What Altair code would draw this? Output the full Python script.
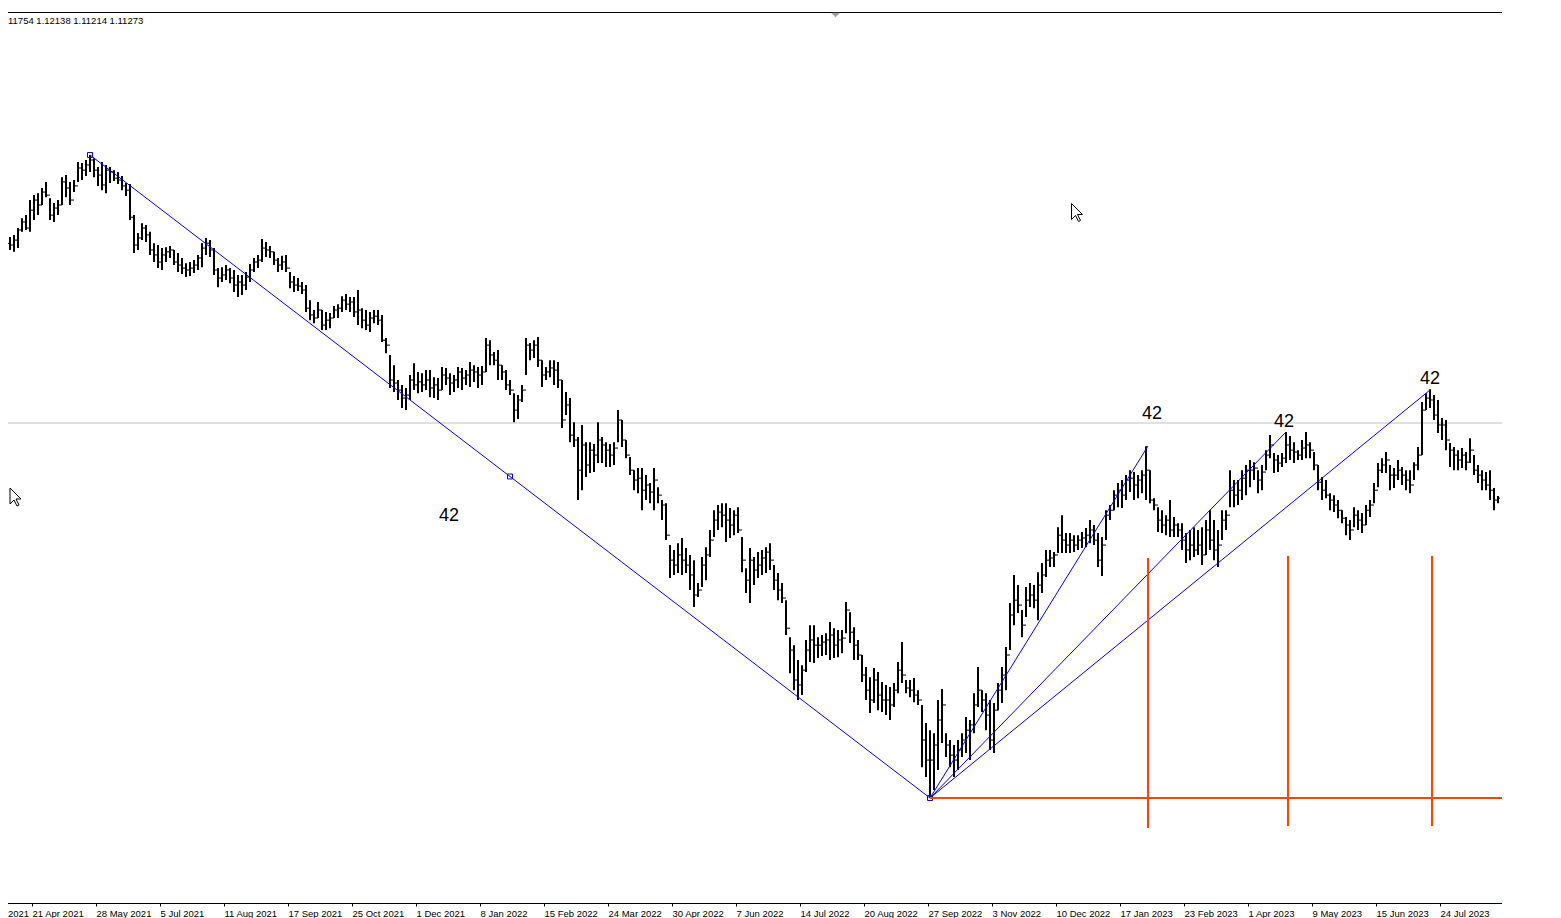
import altair as alt
import pandas as pd

# ---------------- data: daily-style bars, prices in 1e-4 units ----------------
high_pips = [
    11917, 11926, 11955, 11997, 12010, 12074, 12095, 12103, 12125, 12151,
    12082, 12061, 12074, 12171, 12180, 12151, 12159, 12236, 12231, 12244,
    12265, 12252, 12214, 12236, 12223, 12214, 12201, 12193, 12176, 12146,
    12142, 12010, 11934, 11976, 11968, 11939, 11891, 11883, 11870, 11874,
    11879, 11862, 11849, 11828, 11806, 11811, 11819, 11841, 11891, 11913,
    11904, 11870, 11785, 11789, 11798, 11785, 11777, 11756, 11756, 11769,
    11802, 11828, 11841, 11909, 11896, 11879, 11854, 11828, 11837, 11841,
    11769, 11751, 11743, 11726, 11713, 11649, 11607, 11641, 11607, 11599,
    11594, 11624, 11632, 11666, 11675, 11662, 11662, 11692, 11615, 11607,
    11599, 11607, 11607, 11586, 11488, 11416, 11373, 11310, 11289, 11276,
    11331, 11381, 11344, 11339, 11352, 11352, 11322, 11318, 11365, 11361,
    11339, 11331, 11365, 11361, 11352, 11386, 11373, 11365, 11369, 11488,
    11479, 11429, 11437, 11373, 11352, 11310, 11254, 11246, 11289, 11488,
    11467, 11479, 11492, 11394, 11365, 11394, 11394, 11386, 11310, 11259,
    11233, 11131, 11068, 11119, 11046, 11046, 11038, 11131, 11068, 11046,
    11038, 11046, 11182, 11140, 11055, 10983, 10927, 10936, 10936, 10906,
    10872, 10936, 10855, 10800, 10787, 10609, 10588, 10617, 10639, 10596,
    10567, 10545, 10448, 10558, 10600, 10673, 10757, 10779, 10787, 10787,
    10766, 10757, 10770, 10643, 10511, 10596, 10558, 10579, 10588, 10600,
    10617, 10524, 10490, 10448, 10375, 10218, 10184, 10121, 10099, 10206,
    10269, 10269, 10218, 10227, 10235, 10282, 10256, 10248, 10248, 10367,
    10324, 10260, 10206, 10142, 10091, 10048, 10087, 10070, 10027, 10015,
    10006, 10023, 10112, 10197, 10036, 10036, 10044, 9993, 9930, 9853,
    9823, 9810, 9951, 9998, 9810, 9781, 9760, 9781, 9810, 9879,
    9866, 9980, 10091, 9993, 9980, 9951, 9938, 10023, 10091, 10176,
    10363, 10482, 10439, 10333, 10431, 10448, 10439, 10494, 10533, 10588,
    10588, 10579, 10685, 10736, 10660, 10660, 10651, 10651, 10664, 10681,
    10715, 10694, 10660, 10643, 10757, 10779, 10842, 10872, 10885, 10906,
    10927, 10919, 10906, 10927, 11029, 10927, 10808, 10770, 10757, 10736,
    10800, 10728, 10702, 10702, 10660, 10673, 10685, 10673, 10685, 10715,
    10757, 10715, 10673, 10757, 10757, 10927, 10885, 10885, 10927, 10949,
    10970, 10961, 10927, 10949, 11012, 11076, 11000, 10991, 11000, 11089,
    11072, 11046, 11012, 11055, 11089, 11046, 11004, 10949, 10898, 10885,
    10829, 10821, 10800, 10757, 10728, 10715, 10770, 10757, 10745, 10779,
    10800, 10872, 10957, 10978, 11004, 10949, 10936, 10970, 10940, 10927,
    10927, 10961, 11025, 11216, 11254, 11271, 11246, 11225, 11148, 11140,
    11042, 11025, 11012, 11021, 11004, 11063, 10991, 10949, 10927, 10919,
    10927, 10851, 10817,
]
low_pips = [
    11862, 11854, 11870, 11939, 11947, 11939, 11989, 12010, 12053, 12086,
    11989, 11981, 12010, 12053, 12086, 12053, 12108, 12151, 12159, 12176,
    12193, 12171, 12134, 12116, 12103, 12146, 12155, 12142, 12116, 12091,
    11989, 11849, 11862, 11904, 11896, 11841, 11811, 11785, 11777, 11811,
    11828, 11798, 11769, 11760, 11747, 11751, 11764, 11777, 11789, 11841,
    11832, 11756, 11704, 11726, 11734, 11721, 11684, 11662, 11671, 11692,
    11726, 11769, 11785, 11811, 11832, 11828, 11798, 11769, 11777, 11769,
    11700, 11684, 11688, 11675, 11599, 11564, 11551, 11573, 11522, 11522,
    11530, 11573, 11573, 11599, 11607, 11599, 11577, 11543, 11530, 11522,
    11514, 11551, 11543, 11471, 11424, 11276, 11259, 11225, 11191, 11182,
    11225, 11267, 11254, 11259, 11267, 11237, 11233, 11225, 11267, 11289,
    11246, 11259, 11276, 11267, 11289, 11280, 11301, 11276, 11289, 11344,
    11373, 11373, 11310, 11310, 11267, 11246, 11131, 11144, 11216, 11331,
    11394, 11403, 11365, 11280, 11310, 11322, 11289, 11276, 11106, 11161,
    11046, 11025, 10800, 10842, 10898, 10915, 10919, 10957, 10957, 10940,
    10940, 10949, 11046, 11025, 10978, 10906, 10842, 10829, 10757, 10800,
    10787, 10757, 10787, 10715, 10630, 10469, 10482, 10490, 10482, 10490,
    10418, 10346, 10388, 10431, 10460, 10558, 10643, 10673, 10685, 10622,
    10639, 10651, 10660, 10494, 10405, 10363, 10439, 10469, 10482, 10490,
    10503, 10418, 10375, 10363, 10227, 10065, 9993, 9951, 9972, 10070,
    10112, 10108, 10129, 10138, 10142, 10121, 10129, 10133, 10150, 10235,
    10193, 10121, 10121, 10027, 9951, 9896, 9938, 9908, 9900, 9887,
    9866, 9921, 9980, 10023, 9980, 9963, 9942, 9930, 9666, 9624,
    9535, 9569, 9654, 9768, 9709, 9666, 9624, 9654, 9709, 9726,
    9696, 9810, 9921, 9900, 9823, 9739, 9726, 9908, 9938, 9993,
    10163, 10269, 10320, 10218, 10303, 10346, 10341, 10290, 10405, 10473,
    10516, 10516, 10575, 10575, 10575, 10575, 10579, 10588, 10596, 10600,
    10617, 10609, 10516, 10478, 10630, 10715, 10757, 10770, 10766, 10800,
    10834, 10800, 10808, 10829, 10800, 10787, 10757, 10664, 10660, 10651,
    10643, 10643, 10643, 10588, 10533, 10545, 10558, 10567, 10524, 10567,
    10588, 10545, 10516, 10630, 10673, 10770, 10770, 10779, 10800, 10821,
    10855, 10885, 10829, 10842, 10927, 10978, 10915, 10919, 10940, 10957,
    10970, 10957, 10970, 10970, 10978, 10978, 10927, 10842, 10800, 10808,
    10757, 10749, 10723, 10702, 10651, 10630, 10685, 10673, 10660, 10694,
    10728, 10787, 10855, 10915, 10915, 10842, 10851, 10885, 10864, 10842,
    10829, 10885, 10927, 10991, 11182, 11191, 11140, 11085, 11055, 11012,
    10940, 10927, 10927, 10936, 10927, 10957, 10906, 10872, 10842, 10842,
    10800, 10757, 10787,
]
close_pips = [
    11883, 11904, 11947, 11981, 11955, 12031, 12074, 12053, 12108, 12095,
    12010, 12040, 12053, 12151, 12125, 12074, 12134, 12210, 12201, 12223,
    12244, 12201, 12180, 12138, 12201, 12193, 12167, 12159, 12134, 12116,
    12001, 11883, 11913, 11955, 11926, 11862, 11841, 11811, 11841, 11854,
    11862, 11811, 11798, 11785, 11777, 11785, 11798, 11828, 11870, 11891,
    11862, 11777, 11743, 11756, 11777, 11743, 11713, 11726, 11713, 11747,
    11777, 11811, 11819, 11870, 11862, 11854, 11819, 11798, 11811, 11785,
    11726, 11713, 11709, 11692, 11615, 11586, 11573, 11607, 11543, 11564,
    11573, 11607, 11615, 11649, 11632, 11641, 11599, 11607, 11564, 11543,
    11573, 11581, 11564, 11479, 11458, 11310, 11297, 11267, 11233, 11246,
    11310, 11289, 11302, 11289, 11310, 11276, 11289, 11267, 11331, 11318,
    11297, 11310, 11344, 11318, 11331, 11352, 11344, 11331, 11344, 11458,
    11416, 11394, 11373, 11344, 11289, 11267, 11182, 11225, 11267, 11458,
    11437, 11458, 11394, 11331, 11344, 11361, 11352, 11310, 11140, 11204,
    11076, 11055, 10927, 11034, 10949, 11012, 10991, 11055, 11034, 11012,
    10991, 11021, 11140, 11055, 10991, 10927, 10885, 10893, 10842, 10864,
    10834, 10885, 10821, 10779, 10651, 10545, 10524, 10567, 10545, 10524,
    10482, 10397, 10418, 10524, 10567, 10630, 10715, 10749, 10736, 10715,
    10694, 10736, 10673, 10545, 10460, 10545, 10503, 10524, 10554, 10579,
    10545, 10460, 10418, 10384, 10256, 10163, 10036, 10015, 10078, 10163,
    10206, 10184, 10184, 10197, 10206, 10227, 10184, 10206, 10214, 10333,
    10239, 10184, 10142, 10057, 9993, 9951, 10036, 9972, 9951, 9951,
    9930, 9993, 10078, 10057, 10002, 9993, 9972, 9951, 9781, 9696,
    9696, 9760, 9866, 9930, 9760, 9717, 9696, 9739, 9781, 9823,
    9845, 9930, 9993, 9951, 9887, 9781, 9908, 9993, 10057, 10142,
    10312, 10375, 10354, 10269, 10375, 10397, 10375, 10439, 10482, 10545,
    10554, 10567, 10651, 10630, 10609, 10630, 10609, 10630, 10639, 10651,
    10673, 10630, 10545, 10609, 10736, 10757, 10821, 10842, 10821, 10885,
    10893, 10864, 10885, 10906, 10927, 10800, 10779, 10715, 10694, 10715,
    10673, 10694, 10673, 10630, 10588, 10609, 10588, 10609, 10567, 10673,
    10630, 10588, 10609, 10715, 10736, 10842, 10821, 10842, 10893, 10927,
    10927, 10936, 10885, 10919, 10991, 11034, 10970, 10957, 10978, 11034,
    11012, 11004, 10991, 11021, 11034, 11012, 10949, 10876, 10842, 10821,
    10800, 10779, 10757, 10723, 10694, 10673, 10736, 10715, 10694, 10757,
    10779, 10842, 10927, 10949, 10970, 10906, 10906, 10927, 10906, 10885,
    10864, 10949, 10991, 11182, 11233, 11225, 11161, 11119, 11119, 11055,
    11012, 10991, 10970, 10991, 10961, 11012, 10927, 10906, 10885, 10864,
    10842, 10800, 10808,
]
first_open_pips = 11890

date_labels = [
    "21 Apr 2021", "28 May 2021", "5 Jul 2021", "11 Aug 2021", "17 Sep 2021",
    "25 Oct 2021", "1 Dec 2021", "8 Jan 2022", "15 Feb 2022", "24 Mar 2022",
    "30 Apr 2022", "7 Jun 2022", "14 Jul 2022", "20 Aug 2022", "27 Sep 2022",
    "3 Nov 2022", "10 Dec 2022", "17 Jan 2023", "23 Feb 2023", "1 Apr 2023",
    "9 May 2023", "15 Jun 2023", "24 Jul 2023",
]
label_bars = [5.625 + 16 * j for j in range(len(date_labels))]
cut_label = "2021"

bid_price = 1.11273
header_text = "11754 1.12138 1.11214 1.11273"

# annotations in (bar number, price)
down_line = [(20, 1.22653), (230, 0.95350)]
fan_ends = [(284.5, 1.10296), (319, 1.10891), (355, 1.12674)]
text_42 = [(109.75, 1.07367), (285.5, 1.11698), (318.5, 1.11337), (355, 1.13163)]
cycle_bars = [284.5, 319.5, 355.5]
cycle_top = [1.05537, 1.05622, 1.05622]
cycle_bottom = [0.94073, 0.94158, 0.94158]

# ---------------- frames ----------------
rows = []
prev_close = first_open_pips
for i, (h, l, c) in enumerate(zip(high_pips, low_pips, close_pips)):
    rows.append({"b": i, "high": h / 1e4, "low": l / 1e4,
                 "open": prev_close / 1e4, "close": c / 1e4})
    prev_close = c
bars = pd.DataFrame(rows)

W, H = 1494, 891
x_scale = alt.Scale(domain=[-0.5, 373.0], nice=False, zero=False)
y_scale = alt.Scale(domain=[0.90891, 1.28725], nice=False, zero=False)

one = pd.DataFrame({"k": [0]})
FONT = "Liberation Sans"

gray = alt.Chart(pd.DataFrame({"p": [bid_price]})).mark_rule(color="#c0c0c0", strokeWidth=1).encode(
    y=alt.Y("p:Q", scale=y_scale, axis=None), x=alt.value(0), x2=alt.value(W))

hl = alt.Chart(bars).mark_rule(color="black", strokeWidth=2).encode(
    x=alt.X("b:Q", scale=x_scale, axis=None),
    y=alt.Y("low:Q", scale=y_scale, axis=None), y2="high:Q")

otick = alt.Chart(bars).transform_calculate(bo="datum.b - 0.5").mark_rule(
    color="black", strokeWidth=1).encode(
    x=alt.X("bo:Q", scale=x_scale, axis=None), x2="b:Q",
    y=alt.Y("open:Q", scale=y_scale, axis=None))

ctick = alt.Chart(bars).transform_calculate(bc="datum.b + 0.5").mark_rule(
    color="black", strokeWidth=1).encode(
    x=alt.X("b:Q", scale=x_scale, axis=None), x2="bc:Q",
    y=alt.Y("close:Q", scale=y_scale, axis=None))

segs = [{"b0": down_line[0][0], "p0": down_line[0][1], "b1": down_line[1][0], "p1": down_line[1][1]}]
for fb, fp in fan_ends:
    segs.append({"b0": down_line[1][0], "p0": down_line[1][1], "b1": fb, "p1": fp})
blue = alt.Chart(pd.DataFrame(segs)).mark_rule(color="#0000ff", strokeWidth=1).encode(
    x=alt.X("b0:Q", scale=x_scale, axis=None), x2="b1:Q",
    y=alt.Y("p0:Q", scale=y_scale, axis=None), y2="p1:Q")

mid = ((down_line[0][0] + down_line[1][0]) / 2, (down_line[0][1] + down_line[1][1]) / 2)
handles = alt.Chart(pd.DataFrame({"b": [down_line[0][0], mid[0], down_line[1][0]],
                                  "p": [down_line[0][1], mid[1], down_line[1][1]]})).mark_point(
    shape="square", size=25, filled=False, color="#0000ff", strokeWidth=1, opacity=1).encode(
    x=alt.X("b:Q", scale=x_scale, axis=None), y=alt.Y("p:Q", scale=y_scale, axis=None))

osegs = [{"b0": down_line[1][0], "p0": down_line[1][1], "b1": 373.0, "p1": down_line[1][1]}]
for cb, ct, cbt in zip(cycle_bars, cycle_top, cycle_bottom):
    osegs.append({"b0": cb, "p0": ct, "b1": cb, "p1": cbt})
orange = alt.Chart(pd.DataFrame(osegs)).mark_rule(color="#ff4500", strokeWidth=2).encode(
    x=alt.X("b0:Q", scale=x_scale, axis=None), x2="b1:Q",
    y=alt.Y("p0:Q", scale=y_scale, axis=None), y2="p1:Q")

t42 = alt.Chart(pd.DataFrame({"b": [t[0] for t in text_42], "p": [t[1] for t in text_42],
                              "t": ["42"] * len(text_42)})).mark_text(
    font=FONT, fontSize=18, color="black", align="center", baseline="middle", dy=1).encode(
    x=alt.X("b:Q", scale=x_scale, axis=None), y=alt.Y("p:Q", scale=y_scale, axis=None), text="t:N")

header = alt.Chart(one).mark_text(font=FONT, fontSize=9.5, color="black",
                                  align="left", baseline="alphabetic").encode(
    x=alt.value(0), y=alt.value(12), text=alt.value(header_text))

# time axis drawn as marks: base line, separator ticks and date labels
axis_df = pd.DataFrame({"b": label_bars, "label": date_labels})
axis_line = alt.Chart(one).mark_rule(color="black", strokeWidth=1).encode(
    x=alt.value(0), x2=alt.value(W), y=alt.value(H + 0.5))
axis_ticks = alt.Chart(axis_df).mark_rule(color="black", strokeWidth=1).encode(
    x=alt.X("b:Q", scale=x_scale, axis=None), y=alt.value(H), y2=alt.value(H + 3.5))
axis_labels = alt.Chart(axis_df).mark_text(font=FONT, fontSize=9.5, color="black",
                                           align="left", baseline="top").encode(
    x=alt.X("b:Q", scale=x_scale, axis=None), y=alt.value(H + 6), text="label:N")
frag = alt.Chart(one).mark_text(font=FONT, fontSize=9.5, color="black",
                                align="left", baseline="top").encode(
    x=alt.value(0), y=alt.value(H + 6), text=alt.value(cut_label))

toprule = alt.Chart(one).mark_rule(color="black", strokeWidth=1).encode(
    x=alt.value(0), x2=alt.value(W), y=alt.value(0.5))

triangle = alt.Chart(one).mark_point(shape="M-1,-0.5L1,-0.5L0,0.5Z", size=81, filled=True,
                                     color="#a0a0a0", opacity=1, strokeWidth=0).encode(
    x=alt.value(827.5), y=alt.value(3))

arrow = "M-0.611,-1L-0.611,0.778L-0.167,0.333L0.167,1L0.389,0.889L0.056,0.222L0.611,0.222Z"
cur1 = alt.Chart(one).mark_point(shape=arrow, size=324, filled=True, fill="white", stroke="black",
                                 strokeWidth=1, opacity=1, fillOpacity=1).encode(
    x=alt.value(1069), y=alt.value(200.5))
cur2 = alt.Chart(one).mark_point(shape=arrow, size=324, filled=True, fill="white", stroke="black",
                                 strokeWidth=1, opacity=1, fillOpacity=1).encode(
    x=alt.value(7.5), y=alt.value(485))

chart = alt.layer(gray, hl, otick, ctick, blue, handles, orange, t42, header,
                  axis_line, axis_ticks, axis_labels, frag,
                  toprule, triangle, cur1, cur2).properties(
    width=W, height=H,
    padding={"left": 0, "top": 4, "right": 40, "bottom": 15},
    autosize=alt.AutoSizeParams(type="none"),
    background="white",
).configure_view(strokeWidth=0)

chart.save("out.html", embed_options={"renderer": "svg", "actions": False})
